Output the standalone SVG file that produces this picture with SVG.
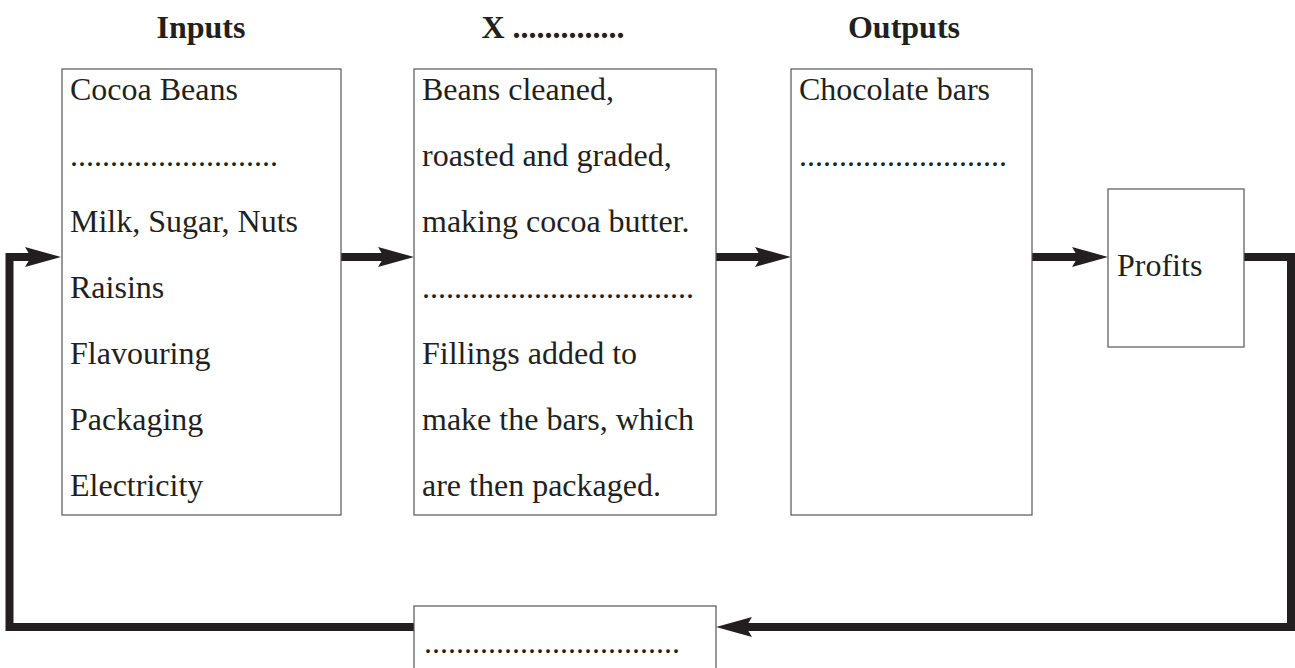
<svg xmlns="http://www.w3.org/2000/svg" width="1295" height="668" viewBox="0 0 1295 668">
<style>
.box{fill:#fff;stroke:#555;stroke-width:1.2}
.t{font-family:'Liberation Serif','Times New Roman',Times,'DejaVu Serif',serif;font-size:32px;fill:#231f20}
.h{font-family:'Liberation Serif','Times New Roman',Times,'DejaVu Serif',serif;font-size:32px;font-weight:bold;fill:#231f20;text-anchor:middle}
.ln{fill:none;stroke:#231f20;stroke-width:8;stroke-linejoin:miter}
</style>
<defs>
<marker id="ah" viewBox="0 0 36 20" refX="6" refY="10" markerWidth="36" markerHeight="20" markerUnits="userSpaceOnUse" orient="auto">
<path d="M0,0 L36,10 L0,20 L6,10 Z" fill="#231f20"/>
</marker>
</defs>
<rect width="1295" height="668" fill="#fff"/>
<g id="headings">
<text class="h" x="201" y="38">Inputs</text>
<text class="h" x="553" y="38">X ..............</text>
<text class="h" x="904" y="38">Outputs</text>
</g>
<g id="connectors">
<path class="ln" d="M341,257 H384" marker-end="url(#ah)"/>
<path class="ln" d="M716,257 H761" marker-end="url(#ah)"/>
<path class="ln" d="M1032,257 H1078" marker-end="url(#ah)"/>
<path class="ln" d="M1244,257 H1291 V627 H746" marker-end="url(#ah)"/>
<path class="ln" d="M414,627 H9.5 V257 H31" marker-end="url(#ah)"/>
</g>
<g id="inputs">
<rect class="box" x="62" y="69" width="279" height="446"/>
<text class="t" x="70" y="100">Cocoa Beans</text>
<text class="t" x="70" y="166">..........................</text>
<text class="t" x="70" y="232">Milk, Sugar, Nuts</text>
<text class="t" x="70" y="298">Raisins</text>
<text class="t" x="70" y="364">Flavouring</text>
<text class="t" x="70" y="430">Packaging</text>
<text class="t" x="70" y="496">Electricity</text>
</g>
<g id="process">
<rect class="box" x="414" y="69" width="302" height="446"/>
<text class="t" x="422" y="100">Beans cleaned,</text>
<text class="t" x="422" y="166">roasted and graded,</text>
<text class="t" x="422" y="232">making cocoa butter.</text>
<text class="t" x="422" y="298">..................................</text>
<text class="t" x="422" y="364">Fillings added to</text>
<text class="t" x="422" y="430">make the bars, which</text>
<text class="t" x="422" y="496">are then packaged.</text>
</g>
<g id="outputs">
<rect class="box" x="791" y="69" width="241" height="446"/>
<text class="t" x="799" y="100">Chocolate bars</text>
<text class="t" x="799" y="166">..........................</text>
</g>
<g id="profits">
<rect class="box" x="1108" y="189" width="136" height="158"/>
<text class="t" x="1117" y="276">Profits</text>
</g>
<g id="blank">
<rect class="box" x="414" y="606" width="302" height="80"/>
<text class="t" x="424" y="653">................................</text>
</g>
</svg>
